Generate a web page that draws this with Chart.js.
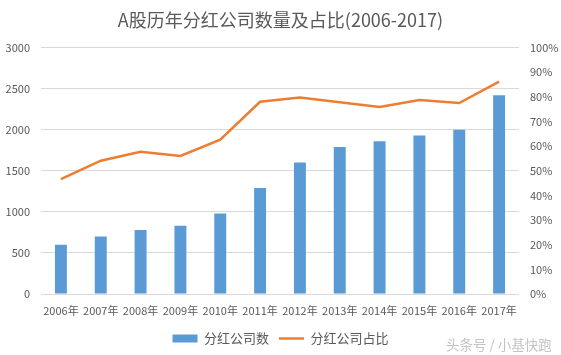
<!DOCTYPE html>
<html>
<head>
<meta charset="utf-8">
<script src="https://cdn.jsdelivr.net/npm/chart.js@4"></script>
<style>
html,body{margin:0;padding:0;background:#fff;}
#wrap{position:relative;width:561px;height:355px;}
#wm{position:absolute;left:446px;top:334px;font:13.5px "Noto Sans CJK SC",sans-serif;color:#c4c4c4;white-space:nowrap;}
</style>
</head>
<body>
<div id="wrap">
<canvas id="c" width="561" height="355"></canvas>
<div id="wm">头条号 / 小基快跑</div>
</div>
<script>
const titleText = 'A股历年分红公司数量及占比(2006-2017)';
const categories = ['2006年','2007年','2008年','2009年','2010年','2011年','2012年','2013年','2014年','2015年','2016年','2017年'];
const companyCounts = [600, 700, 780, 830, 980, 1290, 1600, 1790, 1860, 1930, 2000, 2420];
const companyShares = [0.466, 0.541, 0.577, 0.560, 0.626, 0.780, 0.797, 0.778, 0.759, 0.787, 0.775, 0.862];
const seriesNames = ['分红公司数', '分红公司占比'];

const FONT = '"Noto Sans CJK SC", "Noto Sans", sans-serif';
const GREY = '#595959';

new Chart(document.getElementById('c'), {
  type: 'bar',
  data: {
    labels: categories,
    datasets: [
      {
        type: 'bar',
        label: seriesNames[0],
        data: companyCounts,
        backgroundColor: '#5B9BD5',
        borderWidth: 0,
        barPercentage: 0.3,
        categoryPercentage: 1,
        yAxisID: 'y',
        pointStyle: 'rect'
      },
      {
        type: 'line',
        label: seriesNames[1],
        data: companyShares,
        borderColor: '#ED7D31',
        backgroundColor: '#ED7D31',
        borderWidth: 2.5,
        pointRadius: 0,
        tension: 0,
        yAxisID: 'y1',
        pointStyle: 'line'
      }
    ]
  },
  options: {
    responsive: false,
    animation: false,
    layout: { padding: { left: 0, right: 0, top: 0, bottom: 0 } },
    plugins: {
      title: {
        display: true,
        text: titleText,
        color: GREY,
        font: { family: FONT, size: 18, weight: 'normal' },
        padding: { top: 9, bottom: 17 }
      },
      legend: {
        position: 'bottom',
        labels: {
          usePointStyle: true,
          pointStyleWidth: 25,
          boxHeight: 8,
          color: GREY,
          font: { family: FONT, size: 13 },
          padding: 10
        }
      },
      tooltip: { enabled: false }
    },
    scales: {
      x: {
        grid: { display: false, drawTicks: false },
        border: { display: false },
        ticks: { color: GREY, font: { family: FONT, size: 11 }, padding: 10, maxRotation: 0, autoSkip: false },
        afterFit: s => { s.height = 28; }
      },
      y: {
        position: 'left',
        min: 0, max: 3000,
        ticks: { stepSize: 500, color: GREY, font: { family: FONT, size: 11 }, padding: 11,
          callback: v => String(v) },
        grid: { color: '#d9d9d9', drawTicks: false, lineWidth: 1 },
        border: { display: false },
        afterFit: s => { s.width = 41; }
      },
      y1: {
        position: 'right',
        min: 0, max: 1,
        ticks: { stepSize: 0.1, color: GREY, font: { family: FONT, size: 11 }, padding: 11,
          callback: v => Math.round(v * 100) + '%' },
        grid: { display: false, drawTicks: false },
        border: { display: false },
        afterFit: s => { s.width = 42; }
      }
    }
  }
});
</script>
</body>
</html>
